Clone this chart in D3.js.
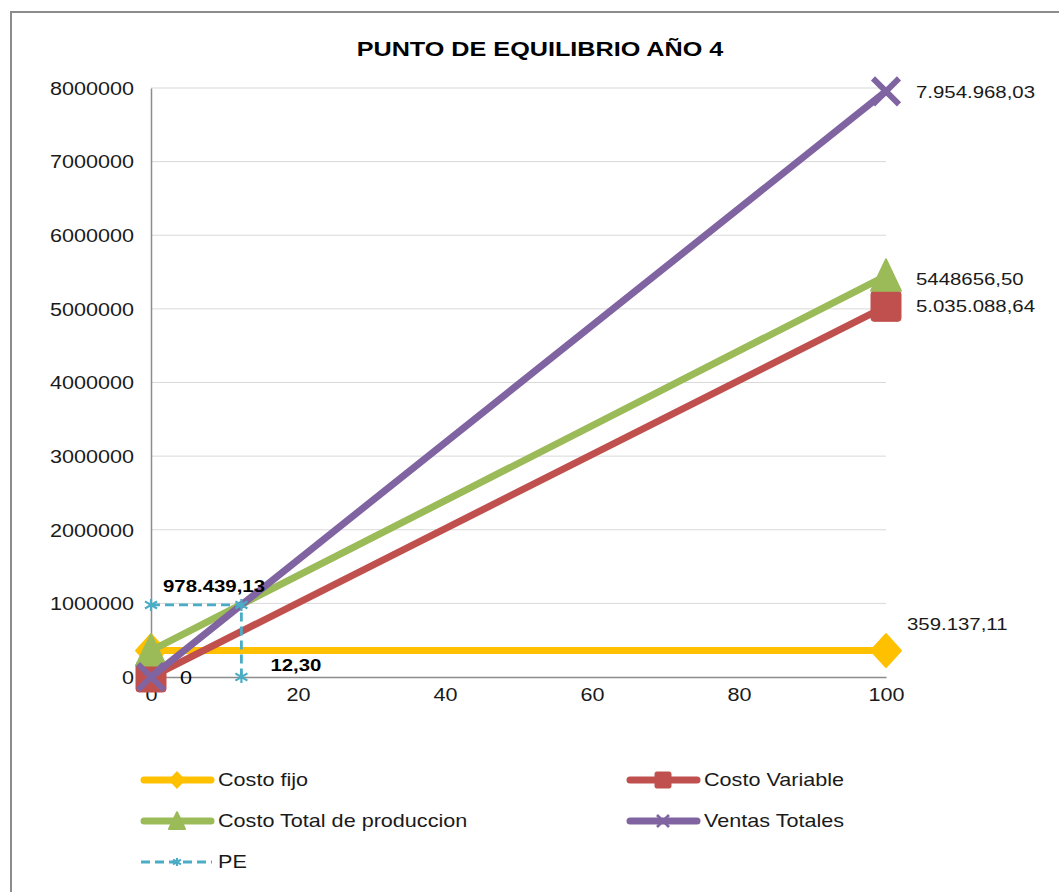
<!DOCTYPE html>
<html>
<head>
<meta charset="utf-8">
<script src="https://cdnjs.cloudflare.com/ajax/libs/d3/7.8.5/d3.min.js"></script>
<style>
  body { margin: 0; background: #fff; }
  svg { display: block; font-family: "Liberation Sans", Arial, sans-serif; }
</style>
</head>
<body>
<div class="content"></div>
<script>
// chart values
var xValues = [0, 100];
var costoFijo = [359137.11, 359137.11];
var costoVariable = [0, 5035088.64];
var costoTotal = [359137.11, 5448656.50];
var ventasTotales = [0, 7954968.03];
var peX = [0, 12.30, 12.30];
var peY = [978439.13, 978439.13, 0];
var yTicks = [0, 1000000, 2000000, 3000000, 4000000, 5000000, 6000000, 7000000, 8000000];
var xTicks = [0, 20, 40, 60, 80, 100];
var seriesNames = ["Costo fijo", "Costo Variable", "Costo Total de produccion", "Ventas Totales", "PE"];
var endLabels = ["359.137,11", "5.035.088,64", "5448656,50", "7.954.968,03"];
var peLabels = ["978.439,13", "12,30", "0"];

var chart = { width: 1059, height: 892, stretch: 1.2 };

// the original text is drawn a bit wider than normal, widen it around its anchor
function stretchText(sel, k) {
    sel.each(function() {
        var t = d3.select(this);
        var tx = +t.attr('x') || 0, ty = +t.attr('y') || 0;
        t.attr('transform', 'translate(' + tx + ',' + ty + ') scale(' + k + ',1) translate(' + (-tx) + ',' + (-ty) + ')');
    });
}

window.onload = function() {
    chart.svg = d3.select('.content').append('svg')
        .attr('width', chart.width)
        .attr('height', chart.height);

    // outer frame
    chart.svg.append('rect')
        .attr('x', 11).attr('y', 12)
        .attr('width', 1080).attr('height', 900)
        .style('fill', '#fff')
        .style('stroke', '#8c8c8c')
        .style('stroke-width', 2);

    chart.svg.append('text')
        .attr('class', 'wide')
        .attr('x', 540).attr('y', 56)
        .attr('text-anchor', 'middle')
        .style('font-size', '21px')
        .style('font-weight', 'bold')
        .style('fill', '#000')
        .text('PUNTO DE EQUILIBRIO AÑO 4');

    var x = d3.scaleLinear().domain([0, 100]).range([151, 886]);
    var y = d3.scaleLinear().domain([0, 8000000]).range([677, 88]);

    // gridlines
    chart.svg.append('g').selectAll('line')
        .data(yTicks.slice(1))
        .enter().append('line')
        .attr('x1', x(0)).attr('x2', x(100))
        .attr('y1', function(d) { return y(d); })
        .attr('y2', function(d) { return y(d); })
        .style('stroke', '#d9d9d9')
        .style('stroke-width', 1);

    var yAxis = chart.svg.append('g')
        .attr('transform', 'translate(' + x(0) + ',0)')
        .call(d3.axisLeft(y).tickValues(yTicks).tickSize(0).tickPadding(17).tickFormat(d3.format('d')));
    yAxis.select('.domain').style('stroke', '#8c8c8c').style('stroke-width', 1.5);
    yAxis.selectAll('text').attr('class', 'wide').style('font-size', '18px').style('fill', '#1a1a1a')
        .attr('font-family', null).attr('dy', '0.35em');

    var xAxis = chart.svg.append('g')
        .attr('transform', 'translate(0,' + y(0) + ')')
        .call(d3.axisBottom(x).tickValues(xTicks).tickSize(0).tickPadding(18).tickFormat(d3.format('d')));
    xAxis.select('.domain').style('stroke', '#8c8c8c').style('stroke-width', 1.5);
    xAxis.selectAll('text').attr('class', 'wide').style('font-size', '18px').style('fill', '#1a1a1a')
        .attr('font-family', null).attr('dy', '0.35em');

    var colors = ['#FFC000', '#C0504D', '#9BBB59', '#8064A2', '#4BACC6'];
    var series = [costoFijo, costoVariable, costoTotal, ventasTotales].map(function(vals, i) {
        return xValues.map(function(xv, j) { return { x: xv, y: vals[j] }; });
    });

    var line = d3.line()
        .x(function(d) { return x(d.x); })
        .y(function(d) { return y(d.y); });

    function marker(g, kind, cx, cy, s, color) {
        if (kind === 'diamond') {
            g.append('path')
                .attr('d', 'M' + cx + ',' + (cy - s * 1.1) + 'L' + (cx + s) + ',' + cy + 'L' + cx + ',' + (cy + s * 1.1) + 'L' + (cx - s) + ',' + cy + 'Z')
                .style('fill', color).style('stroke', color).style('stroke-width', 2).style('stroke-linejoin', 'round');
        } else if (kind === 'square') {
            g.append('rect')
                .attr('x', cx - s).attr('y', cy - s).attr('width', 2 * s).attr('height', 2 * s)
                .attr('rx', s * 0.2)
                .style('fill', color).style('stroke', color).style('stroke-width', 1);
        } else if (kind === 'triangle') {
            g.append('path')
                .attr('d', 'M' + cx + ',' + (cy - s * 1.1) + 'L' + (cx + s) + ',' + (cy + s) + 'L' + (cx - s) + ',' + (cy + s) + 'Z')
                .style('fill', color).style('stroke', color).style('stroke-width', 2).style('stroke-linejoin', 'round');
        } else if (kind === 'x') {
            g.append('path')
                .attr('d', 'M' + (cx - s) + ',' + (cy - s) + 'L' + (cx + s) + ',' + (cy + s) + 'M' + (cx + s) + ',' + (cy - s) + 'L' + (cx - s) + ',' + (cy + s))
                .style('stroke', color).style('stroke-width', s * 0.45).style('fill', 'none');
        } else if (kind === 'star') {
            g.append('path')
                .attr('d', 'M' + cx + ',' + (cy - s) + 'L' + cx + ',' + (cy + s) +
                    'M' + (cx - s) + ',' + (cy - s * 0.6) + 'L' + (cx + s) + ',' + (cy + s * 0.6) +
                    'M' + (cx + s) + ',' + (cy - s * 0.6) + 'L' + (cx - s) + ',' + (cy + s * 0.6))
                .style('stroke', color).style('stroke-width', 2.2).style('fill', 'none');
        }
    }

    var kinds = ['diamond', 'square', 'triangle', 'x', 'star'];
    var sizes = [15, 15, 15, 13, 6];

    var plot = chart.svg.append('g');
    series.forEach(function(data, i) {
        var g = plot.append('g');
        g.append('path')
            .attr('d', line(data))
            .style('fill', 'none')
            .style('stroke', colors[i])
            .style('stroke-width', 7)
            .style('stroke-linecap', 'round');
        data.forEach(function(d) {
            marker(g, kinds[i], x(d.x), y(d.y), sizes[i], colors[i]);
        });
    });

    // PE dashed
    var peData = peX.map(function(v, i) { return { x: v, y: peY[i] }; });
    var peG = plot.append('g');
    peG.append('path')
        .attr('d', line(peData))
        .style('fill', 'none')
        .style('stroke', colors[4])
        .style('stroke-width', 2.8)
        .style('stroke-dasharray', '9,5');
    peData.forEach(function(d) {
        marker(peG, 'star', x(d.x), y(d.y), 6, colors[4]);
    });

    // end labels
    var labelPos = [
        { dx: 21, dy: -27 },
        { dx: 30, dy: 0 },
        { dx: 30, dy: 3 },
        { dx: 30, dy: 1 }
    ];
    series.forEach(function(data, i) {
        var d = data[1];
        chart.svg.append('text')
            .attr('class', 'wide')
            .attr('x', x(d.x) + labelPos[i].dx)
            .attr('y', y(d.y) + labelPos[i].dy)
            .attr('dy', '0.35em')
            .style('font-size', '17px')
            .style('fill', '#1a1a1a')
            .text(endLabels[i]);
    });

    // PE labels
    chart.svg.append('text')
        .attr('class', 'wide')
        .attr('x', x(peX[0]) + 12).attr('y', y(peY[0]) - 19).attr('dy', '0.35em')
        .style('font-size', '17px').style('font-weight', 'bold').style('fill', '#000')
        .text(peLabels[0]);
    chart.svg.append('text')
        .attr('class', 'wide')
        .attr('x', x(peX[2]) + 29).attr('y', y(peY[2]) - 12).attr('dy', '0.35em')
        .style('font-size', '17px').style('font-weight', 'bold').style('fill', '#000')
        .text(peLabels[1]);
    chart.svg.append('text')
        .attr('class', 'wide')
        .attr('x', x(0) + 29).attr('y', y(0) + 1).attr('dy', '0.35em')
        .style('font-size', '18px').style('fill', '#000')
        .text(peLabels[2]);

    // legend
    var legendItems = [
        { name: seriesNames[0], col: 0, row: 0, i: 0 },
        { name: seriesNames[1], col: 1, row: 0, i: 1 },
        { name: seriesNames[2], col: 0, row: 1, i: 2 },
        { name: seriesNames[3], col: 1, row: 1, i: 3 },
        { name: seriesNames[4], col: 0, row: 2, i: 4 }
    ];
    var colX = [141, 627];
    var rowY = [780, 821, 862];
    var legendSizes = [7, 8, 8, 6, 4];
    var lg = chart.svg.append('g');
    legendItems.forEach(function(it) {
        var lx = colX[it.col], ly = rowY[it.row];
        var g = lg.append('g');
        if (it.i === 4) {
            g.append('line')
                .attr('x1', lx).attr('x2', lx + 71).attr('y1', ly).attr('y2', ly)
                .style('stroke', colors[4]).style('stroke-width', 2.8).style('stroke-dasharray', '9,5');
        } else {
            g.append('line')
                .attr('x1', lx + 3).attr('x2', lx + 70).attr('y1', ly).attr('y2', ly)
                .style('stroke', colors[it.i]).style('stroke-width', 7).style('stroke-linecap', 'round');
        }
        marker(g, kinds[it.i], lx + 36, ly, legendSizes[it.i], colors[it.i]);
        g.append('text')
            .attr('class', 'wide')
            .attr('x', lx + 77).attr('y', ly).attr('dy', '0.35em')
            .style('font-size', '18px').style('fill', '#1a1a1a')
            .text(it.name);
    });

    stretchText(chart.svg.selectAll('text.wide'), chart.stretch);
};
</script>
</body>
</html>
